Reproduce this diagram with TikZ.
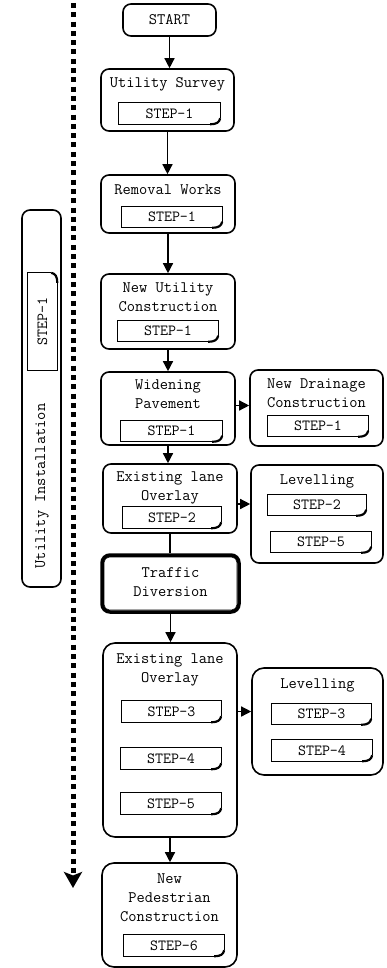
\documentclass[tikz,border=0pt]{standalone}
\usetikzlibrary{arrows.meta,calc}
\tikzset{
  box/.style={draw, line width=1.6pt, rounded corners=8pt, inner sep=0pt},
  ttl/.style={font=\fontsize{16}{19}\selectfont\ttfamily, align=center, inner sep=0pt},
  stepnode/.style={inner sep=0pt, minimum height=21pt, font=\fontsize{15.5}{18}\selectfont\ttfamily},
  stepline/.style={line width=1.2pt, line join=miter},
  curl/.style={line width=2.2pt},
  flow/.style={line width=1.4pt, -{Triangle[length=10pt,width=10pt]}},
  plainflow/.style={line width=1.4pt},
  dotline/.style={line width=5pt, dash pattern=on 5pt off 4.3pt, -{Stealth[length=16pt,width=18pt,inset=3.5pt]}},
}
\newcommand\mkstep[4]{%
  \node[stepnode, minimum width=#3pt] (#1) at (#2) {#4};
  \draw[stepline] ([yshift=6pt]#1.south east) -- (#1.north east) -- (#1.north west) -- (#1.south west) -- ([xshift=-10pt]#1.south east);
  \draw[curl] ([xshift=-10pt]#1.south east) .. controls ([xshift=-3pt]#1.south east) and ([xshift=-1pt,yshift=2pt]#1.south east) .. ([yshift=6pt]#1.south east);
}
\begin{document}
\begin{tikzpicture}[x=1pt,y=-1pt]
\useasboundingbox (0,0) rectangle (386,968);

% dotted timeline
\coordinate (dtop) at (73,3);
\coordinate (dbot) at (73,888);
\draw[dotline] (dtop) -- (dbot);

% left box
\node[box, minimum width=39pt, minimum height=377pt] (ui) at (41.5,398.5) {};
\node[ttl, rotate=90] (uitxt) at (42,486) {Utility Installation};
\node[stepnode, rotate=90, minimum width=97pt, minimum height=29pt] (sui) at (42.5,321.5) {STEP-1};
\draw[stepline] ([xshift=-6pt]sui.south east) -- (sui.north east) -- (sui.north west) -- (sui.south west) -- ([yshift=-10pt]sui.south east);
\draw[curl] ([yshift=-10pt]sui.south east) .. controls ([yshift=-3pt]sui.south east) and ([xshift=-2pt,yshift=-1pt]sui.south east) .. ([xshift=-6pt]sui.south east);

% main column boxes
\node[box, minimum width=93pt, minimum height=32pt] (start) at (169.5,20) {};
\node[ttl] (starttxt) at (169.5,20) {START};

\node[box, minimum width=133pt, minimum height=62pt] (us) at (167.5,100) {};
\node[ttl] (ustxt) at (167.5,84) {Utility Survey};
\mkstep{sus}{169.5,113.5}{101}{STEP-1}

\node[box, minimum width=134pt, minimum height=58pt] (rw) at (168,204) {};
\node[ttl] (rwtxt) at (168,190) {Removal Works};
\mkstep{srw}{172,217}{100}{STEP-1}

\node[box, minimum width=134pt, minimum height=75pt] (nu) at (168,311.5) {};
\node[ttl] (nutxt) at (168,297.5) {New Utility\\Construction};
\mkstep{snu}{168,331}{100}{STEP-1}

\node[box, minimum width=134pt, minimum height=73pt] (wp) at (168,408.5) {};
\node[ttl] (wptxt) at (168,394.5) {Widening\\Pavement};
\mkstep{swp}{171.5,431}{101}{STEP-1}

\node[box, minimum width=133pt, minimum height=76pt] (nd) at (316.5,408) {};
\node[ttl] (ndtxt) at (316.5,393) {New Drainage\\Construction};
\mkstep{snd}{318,426}{100}{STEP-1}

\node[box, minimum width=134pt, minimum height=69pt] (elA) at (170,498.5) {};
\node[ttl] (elAtxt) at (170,487.5) {Existing lane\\Overlay};
\mkstep{selA}{172,517.5}{98}{STEP-2}

\node[box, minimum width=132pt, minimum height=98pt] (lvA) at (317,514) {};
\node[ttl] (lvAtxt) at (317,481) {Levelling};
\mkstep{slvAa}{317,505}{98}{STEP-2}
\mkstep{slvAb}{321,542}{100}{STEP-5}

\node[box, line width=3.5pt, minimum width=137pt, minimum height=57pt] (td) at (170.5,583.5) {};
\draw[line width=0.8pt, rounded corners=5pt] ($(td.north west)+(3.8pt,-3.8pt)$) rectangle ($(td.south east)+(-3.8pt,3.8pt)$);
\node[ttl] (tdtxt) at (170.5,582.5) {Traffic\\Diversion};

\node[box, rounded corners=12pt, minimum width=134pt, minimum height=194pt] (elB) at (170,740) {};
\node[ttl] (elBtxt) at (170,670) {Existing lane\\Overlay};
\mkstep{selBa}{171.5,711.5}{99}{STEP-3}
\mkstep{selBb}{171,758.5}{100}{STEP-4}
\mkstep{selBc}{171,803.5}{100}{STEP-5}

\node[box, rounded corners=12pt, minimum width=131pt, minimum height=107pt] (lvB) at (317.5,721.5) {};
\node[ttl] (lvBtxt) at (317.5,685) {Levelling};
\mkstep{slvBa}{321.5,714}{99}{STEP-3}
\mkstep{slvBb}{322,750.5}{100}{STEP-4}

\node[box, rounded corners=12pt, minimum width=135pt, minimum height=104pt] (np) at (169.5,915) {};
\node[ttl] (nptxt) at (169.5,898) {New\\Pedestrian\\Construction};
\mkstep{snp}{174,945.5}{100}{STEP-6}

% connectors
\draw[flow] (start.south) -- (start.south |- us.north);
\draw[flow] (us.south) -- (us.south |- rw.north);
\draw[flow] (rw.south) -- (rw.south |- nu.north);
\draw[flow] (nu.south) -- (nu.south |- wp.north);
\draw[flow] (wp.south) -- (wp.south |- elA.north);
\draw[flow] ([yshift=3pt]wp.east) -- ([yshift=3pt]wp.east -| nd.west);
\draw[flow] ([yshift=-5.5pt]elA.east) -- ([yshift=-5.5pt]elA.east -| lvA.west);
\draw[plainflow] (elA.south) -- (elA.south |- td.north);
\draw[flow] (td.south) -- (td.south |- elB.north);
\draw[flow] (elB.east |- selBa) -- (lvB.west |- selBa);
\draw[flow] (elB.south) -- (elB.south |- np.north);
\end{tikzpicture}
\end{document}
